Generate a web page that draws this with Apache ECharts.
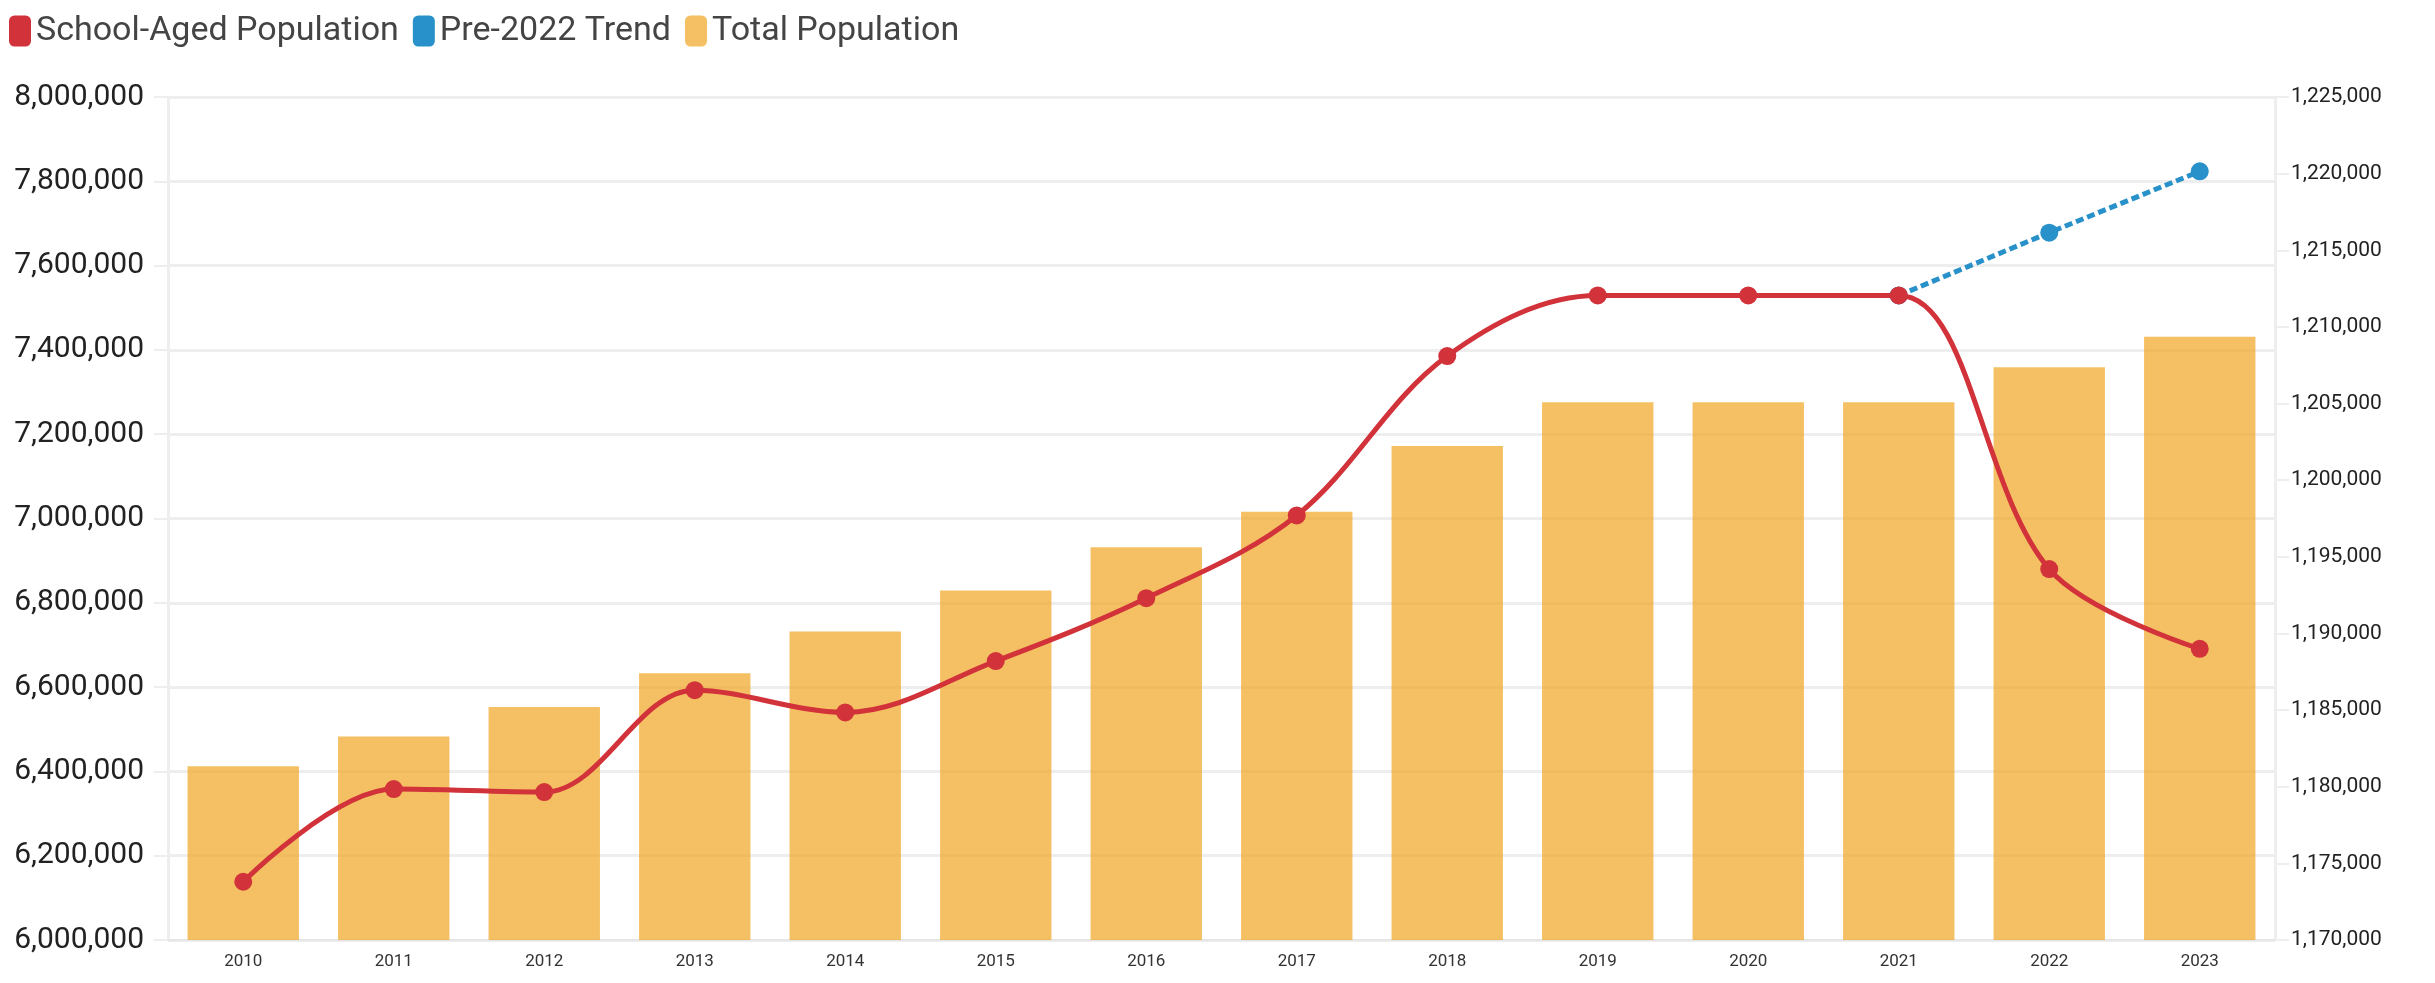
<!DOCTYPE html>
<html>
<head>
<meta charset="utf-8">
<script src="https://cdn.jsdelivr.net/npm/echarts@6/dist/echarts.min.js"></script>
<style>
  html, body { margin: 0; padding: 0; background: #fff; }
  #main { width: 2435px; height: 983px; }
</style>
</head>
<body>
<div id="main"></div>
<script>
// data
const years = ['2010', '2011', '2012', '2013', '2014', '2015', '2016', '2017', '2018', '2019', '2020', '2021', '2022', '2023'];
const totalPopulation = [6412000, 6483000, 6553000, 6633000, 6732000, 6829000, 6932000, 7016000, 7172000, 7276000, 7276000, 7276000, 7359000, 7431000];
const schoolAged = [1173800, 1179850, 1179650, 1186300, 1184850, 1188200, 1192300, 1197700, 1208100, 1212050, 1212050, 1212050, 1194200, 1189000];
const trend = [null, null, null, null, null, null, null, null, null, null, null, 1212050, 1216150, 1220150];

const fmt = v => v.toLocaleString('en-US');

const chart = echarts.init(document.getElementById('main'));

const option = {
  animation: false,
  legend: {
    left: 4,
    top: 9,
    itemWidth: 22,
    itemHeight: 31,
    itemGap: 14,
    icon: 'roundRect',
    textStyle: { fontSize: 34, color: '#444', fontFamily: 'Roboto' },
    data: ['School-Aged Population', 'Pre-2022 Trend', 'Total Population']
  },
  grid: {
    left: 168,
    right: 160,
    top: 97,
    bottom: 43
  },
  xAxis: {
    type: 'category',
    data: years,
    axisLine: { lineStyle: { color: '#e6e6e6', width: 2 } },
    axisTick: { alignWithLabel: true, length: 12, lineStyle: { color: '#e6e6e6', width: 2 } },
    axisLabel: { fontSize: 17, color: '#333', fontFamily: 'Roboto', margin: 13 }
  },
  yAxis: [
    {
      type: 'value',
      min: 6000000,
      max: 8000000,
      interval: 200000,
      axisLine: { show: true, lineStyle: { color: '#eeeeee', width: 3 } },
      axisTick: { show: true, length: 14, lineStyle: { color: '#eeeeee', width: 2 } },
      splitLine: { lineStyle: { color: '#eeeeee', width: 3 } },
      axisLabel: { fontSize: 30, color: '#222', fontFamily: 'Roboto', margin: 24, formatter: fmt }
    },
    {
      type: 'value',
      min: 1170000,
      max: 1225000,
      interval: 5000,
      position: 'right',
      axisLine: { show: true, lineStyle: { color: '#eeeeee', width: 3 } },
      axisTick: { show: true, length: 14, lineStyle: { color: '#eeeeee', width: 2 } },
      splitLine: { show: false },
      axisLabel: { fontSize: 21, color: '#222', fontFamily: 'Roboto', margin: 16, formatter: fmt }
    }
  ],
  series: [
    {
      name: 'Total Population',
      type: 'bar',
      yAxisIndex: 0,
      data: totalPopulation,
      barCategoryGap: '26%',
      itemStyle: { color: '#F0A521', opacity: 0.7 },
      z: 1
    },
    {
      name: 'Pre-2022 Trend',
      type: 'line',
      yAxisIndex: 1,
      data: trend,
      symbol: 'circle',
      symbolSize: 18,
      lineStyle: { color: '#2891C9', width: 5, type: [8, 4] },
      itemStyle: { color: '#2891C9' },
      z: 2
    },
    {
      name: 'School-Aged Population',
      type: 'line',
      yAxisIndex: 1,
      data: schoolAged,
      smooth: 0.35,
      symbol: 'circle',
      symbolSize: 18,
      lineStyle: { color: '#D2323A', width: 5 },
      itemStyle: { color: '#D2323A' },
      z: 3
    }
  ]
};

chart.setOption(option);
</script>
</body>
</html>
